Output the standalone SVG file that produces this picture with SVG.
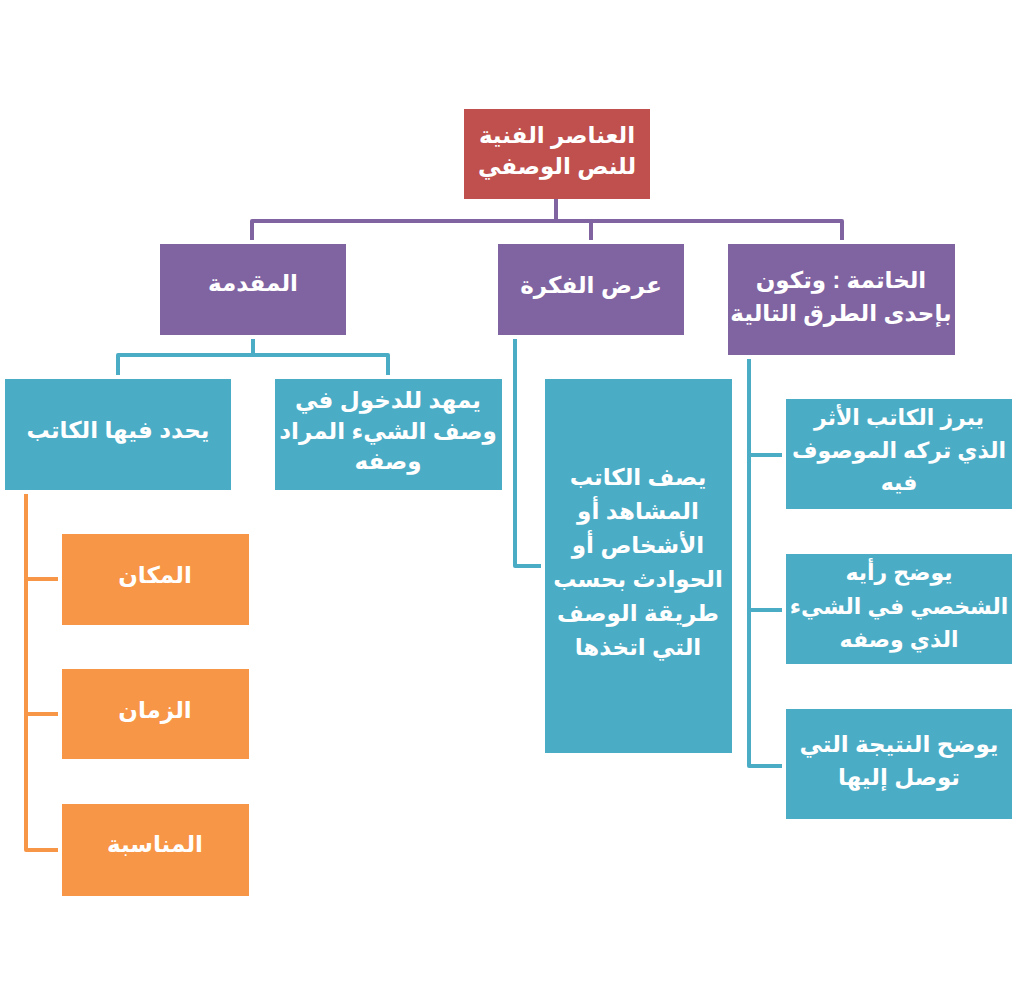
<svg xmlns="http://www.w3.org/2000/svg" width="1031" height="1005" viewBox="0 0 1031 1005">
<style>
.t{font-family:"Liberation Sans","DejaVu Sans",Arial,sans-serif;font-weight:bold;font-size:23px;fill:#fff;text-anchor:middle;direction:rtl}
.s{font-size:22px}
.red{fill:#C0504D}.pur{fill:#8064A2}.blu{fill:#4BACC6}.org{fill:#F79646}
.c{fill:none;stroke-width:4;stroke-linejoin:round;stroke-linecap:butt}
.cp{stroke:#8064A2}.cb{stroke:#4BACC6}.co{stroke:#F79646}
</style>
<rect width="1031" height="1005" fill="#fff"/>
<g id="connectors">
<path class="c cp" d="M556,199 V221 M252,240 V221 H842 V240 M591,221 V240"/>
<path class="c cb" d="M253,339 V355 H118 V375 M253,355 H388 V375"/>
<path class="c cb" d="M515,339 V566 H541"/>
<path class="c cb" d="M749,359 V766 H782 M749,455 H782 M749,610 H782"/>
<path class="c co" d="M26,494 V850 H58 M26,579 H58 M26,714 H58"/>
</g>
<g id="root"><rect class="red" x="464" y="109" width="186" height="90"/>
<text class="t"><tspan x="557" y="143">العناصر الفنية</tspan><tspan x="557" y="174">للنص الوصفي</tspan></text></g>
<g id="intro"><rect class="pur" x="160" y="244" width="186" height="91"/>
<text class="t" x="253" y="291">المقدمة</text></g>
<g id="idea"><rect class="pur" x="498" y="244" width="186" height="91"/>
<text class="t" x="591" y="293">عرض الفكرة</text></g>
<g id="conclusion"><rect class="pur" x="728" y="244" width="227" height="111"/>
<text class="t"><tspan x="841" y="288">الخاتمة : وتكون</tspan><tspan x="841" y="321">بإحدى الطرق التالية</tspan></text></g>
<g id="intro-a"><rect class="blu" x="5" y="379" width="226" height="111"/>
<text class="t" x="118" y="438">يحدد فيها الكاتب</text></g>
<g id="intro-b"><rect class="blu" x="275" y="379" width="227" height="111"/>
<text class="t"><tspan x="388" y="408">يمهد للدخول في</tspan><tspan x="388" y="439">وصف الشيء المراد</tspan><tspan x="388" y="469">وصفه</tspan></text></g>
<g id="idea-a"><rect class="blu" x="545" y="379" width="187" height="374"/>
<text class="t"><tspan x="638" y="485">يصف الكاتب</tspan><tspan x="638" y="519">المشاهد أو</tspan><tspan x="638" y="553">الأشخاص أو</tspan><tspan x="638" y="587">الحوادث بحسب</tspan><tspan x="638" y="621">طريقة الوصف</tspan><tspan x="638" y="655">التي اتخذها</tspan></text></g>
<g id="conc-a"><rect class="blu" x="786" y="399" width="226" height="110"/>
<text class="t s"><tspan x="899" y="425">يبرز الكاتب الأثر</tspan><tspan x="899" y="458">الذي تركه الموصوف</tspan><tspan x="899" y="490">فيه</tspan></text></g>
<g id="conc-b"><rect class="blu" x="786" y="554" width="226" height="110"/>
<text class="t s"><tspan x="899" y="580">يوضح رأيه</tspan><tspan x="899" y="614">الشخصي في الشيء</tspan><tspan x="899" y="647">الذي وصفه</tspan></text></g>
<g id="conc-c"><rect class="blu" x="786" y="709" width="226" height="110"/>
<text class="t"><tspan x="899" y="752">يوضح النتيجة التي</tspan><tspan x="899" y="785">توصل إليها</tspan></text></g>
<g id="place"><rect class="org" x="62" y="534" width="187" height="91"/>
<text class="t" x="155" y="583">المكان</text></g>
<g id="time"><rect class="org" x="62" y="669" width="187" height="90"/>
<text class="t" x="155" y="718">الزمان</text></g>
<g id="occasion"><rect class="org" x="62" y="804" width="187" height="92"/>
<text class="t" x="155" y="852">المناسبة</text></g>
</svg>
